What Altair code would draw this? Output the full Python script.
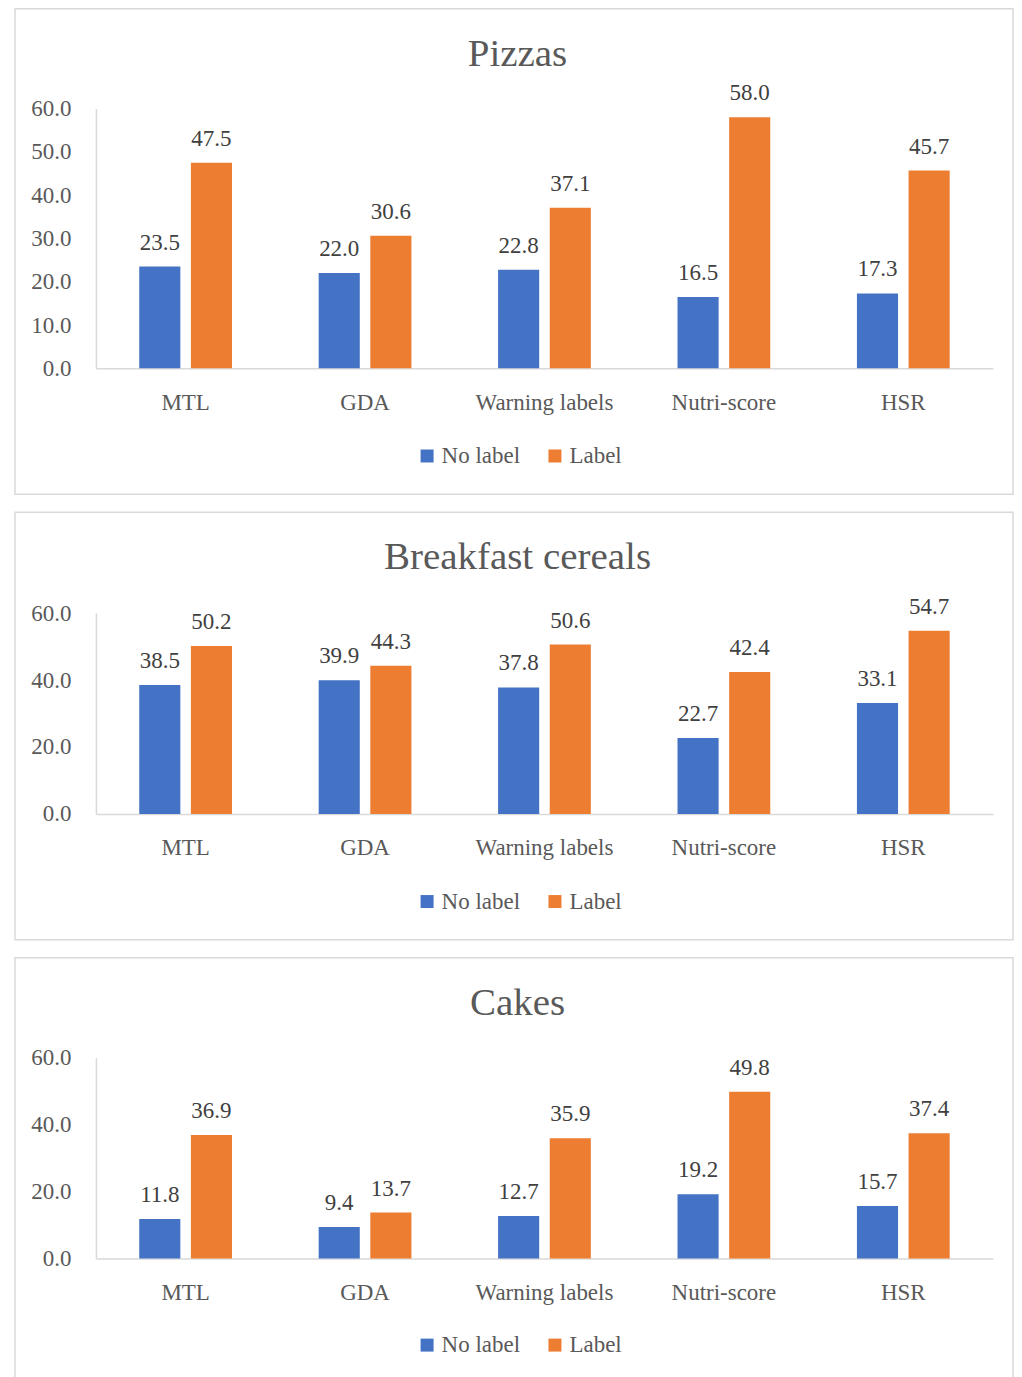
import altair as alt
import pandas as pd

categories = ["MTL", "GDA", "Warning labels", "Nutri-score", "HSR"]
series = ["No label", "Label"]
panel_titles = ["Pizzas", "Breakfast cereals", "Cakes"]

pizzas_no_label = [23.5, 22.0, 22.8, 16.5, 17.3]
pizzas_label = [47.5, 30.6, 37.1, 58.0, 45.7]
cereals_no_label = [38.5, 39.9, 37.8, 22.7, 33.1]
cereals_label = [50.2, 44.3, 50.6, 42.4, 54.7]
cakes_no_label = [11.8, 9.4, 12.7, 19.2, 15.7]
cakes_label = [36.9, 13.7, 35.9, 49.8, 37.4]

ticks_pizzas = [0, 10, 20, 30, 40, 50, 60]
ticks_other = [0, 20, 40, 60]

FONT = "Liberation Serif"
BLUE = "#4472C4"
ORANGE = "#ED7D31"
GREY_TEXT = "#595959"
LABEL_TEXT = "#404040"
LINE = "#D9D9D9"
BOX_W = 999


def panel(title, nolab, lab, ticks, h, y_zero, y_top, legend_y):
    df = pd.DataFrame({
        "category": categories * 2,
        "series": [series[0]] * len(categories) + [series[1]] * len(categories),
        "value": nolab + lab,
    })
    x = alt.X(
        "category:N", sort=categories,
        scale=alt.Scale(range=[81, 979], paddingInner=0.483, paddingOuter=0.2415),
        axis=alt.Axis(title=None, labelAngle=0, ticks=False, tickSize=0,
                      labelPadding=23, offset=y_zero - h, grid=False,
                      domainColor=LINE, domainWidth=1.5,
                      labelFont=FONT, labelFontSize=23, labelColor=GREY_TEXT),
    )
    y = alt.Y(
        "value:Q",
        scale=alt.Scale(domain=[0, 60], range=[y_zero, y_top], nice=False, zero=True),
        axis=alt.Axis(title=None, values=ticks, format=".1f", ticks=False, tickSize=0,
                      labelPadding=25, offset=-81, grid=False, labelFlush=False,
                      domainColor=LINE, domainWidth=1.5,
                      labelFont=FONT, labelFontSize=23, labelColor=GREY_TEXT),
    )
    xo = alt.XOffset("series:N", sort=series,
                     scale=alt.Scale(paddingInner=0.204, paddingOuter=0))
    color = alt.Color(
        "series:N", sort=series,
        scale=alt.Scale(domain=series, range=[BLUE, ORANGE]),
        legend=alt.Legend(title=None, orient="none", legendX=401, legendY=legend_y,
                          direction="horizontal", symbolType="square", symbolSize=169,
                          symbolStrokeWidth=0, symbolOpacity=1, labelOffset=3,
                          columnPadding=23, padding=0,
                          labelFont=FONT, labelFontSize=23, labelColor=GREY_TEXT),
    )
    bars = alt.Chart(df).mark_bar().encode(x=x, y=y, xOffset=xo, color=color)
    labels = alt.Chart(df).mark_text(
        baseline="alphabetic", dy=-17, fontSize=23, font=FONT, color=LABEL_TEXT
    ).encode(x=x, y=y, xOffset=xo, text=alt.Text("value:Q", format=".1f"))
    head = alt.Chart(pd.DataFrame({"t": [title]})).mark_text(
        align="center", baseline="alphabetic", fontSize=39, font=FONT, color=GREY_TEXT
    ).encode(x=alt.value(503), y=alt.value(57), text="t:N")
    return alt.layer(bars, labels, head).properties(width=BOX_W, height=h)


p1 = panel(panel_titles[0], pizzas_no_label, pizzas_label, ticks_pizzas, 486, 360, 100, 436)
p2 = panel(panel_titles[1], cereals_no_label, cereals_label, ticks_other, 428, 302, 101, 378)
p3 = panel(panel_titles[2], cakes_no_label, cakes_label, ticks_other, 428, 301, 100, 376)

chart = (
    alt.vconcat(p1, p2, p3, spacing=16)
    .resolve_scale(x="independent", y="independent", xOffset="independent", color="independent")
    .properties(padding={"left": 6, "top": -1, "right": 0, "bottom": 0})
    .configure_view(stroke=LINE, strokeWidth=1.5)
)

chart.save("out.html", embed_options={"renderer": "svg", "actions": False})
